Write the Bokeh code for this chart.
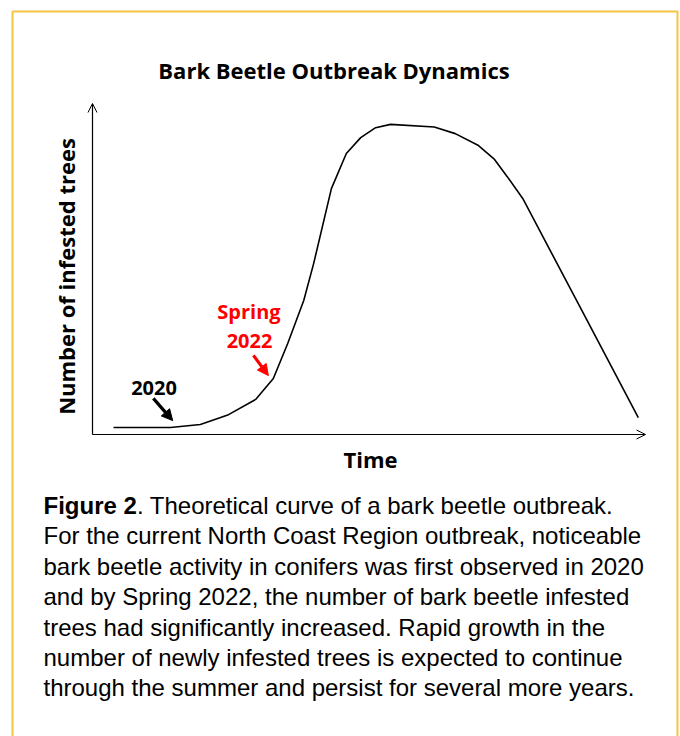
from bokeh.plotting import figure
from bokeh.models import Label, Arrow, OpenHead, NormalHead, BoxAnnotation, Range1d, ColumnDataSource
from bokeh.embed import file_html
from bokeh.resources import INLINE
import math

# ---------------- data ----------------
title_text = "Bark Beetle Outbreak Dynamics"
x_label = "Time"
y_label = "Number of infested trees"

# relative time (0-100) and relative number of infested trees (0-100)
time_rel = [3.8, 14.1, 19.5, 24.6, 29.5, 32.7, 35.3, 38.2, 40.0, 43.2, 45.9, 48.5,
            51.2, 53.9, 61.8, 65.6, 69.8, 72.7, 75.0, 77.8, 88.2, 98.7]
infested = [2.1, 2.1, 3.0, 6.0, 10.6, 16.9, 27.5, 40.5, 51.7, 74.3, 84.9, 89.7,
            92.7, 93.7, 92.9, 90.9, 87.3, 83.1, 77.9, 71.3, 38.4, 5.1]

# event markers on the curve
event_names = ["2020", "Spring 2022"]
event_colors = ["#000000", "#FF0000"]
event_tail_t = [11.0, 29.1]
event_tail_n = [10.9, 23.9]
event_tip_t = [14.5, 31.8]
event_tip_n = [4.2, 17.8]

caption_bold = "Figure 2"
caption_lines = [
    ". Theoretical curve of a bark beetle outbreak.",
    "For the current North Coast Region outbreak, noticeable",
    "bark beetle activity in conifers was first observed in 2020",
    "and by Spring 2022, the number of bark beetle infested",
    "trees had significantly increased. Rapid growth in the",
    "number of newly infested trees is expected to continue",
    "through the summer and persist for several more years.",
]

# ---------------- layout ----------------
W, H = 680, 736
# pixel position of the axis origin and the pixel length of 100 units on each axis
ORX, ORY = 92.0, 434.0
LEN_X, LEN_Y = 553.0, 331.0
sx = LEN_X / 100.0
sy = LEN_Y / 100.0
x_rng = Range1d(-ORX / sx, (W - ORX) / sx)
y_rng = Range1d(-(H - ORY) / sy, ORY / sy)

p = figure(width=W, height=H, x_range=x_rng, y_range=y_rng,
           output_backend="svg", toolbar_location=None,
           min_border=0, min_border_left=0, min_border_right=0,
           min_border_top=0, min_border_bottom=0)
p.title.visible = False
p.xaxis.visible = False
p.yaxis.visible = False
p.grid.visible = False
p.outline_line_color = None
p.background_fill_color = "white"
p.border_fill_color = "white"

BOLD_FONT = "Open Sans"
CAP_FONT = "Liberation Sans"


def scr(px, py):
    """page pixel (top-left origin) -> frame screen units (bottom-left origin)"""
    return px, H - py


# yellow frame around the panel
bl, bt = scr(12, 11)
br, bb = scr(677, 760)
p.add_layout(BoxAnnotation(left=bl, right=br, top=bt, bottom=bb,
                           left_units="screen", right_units="screen",
                           top_units="screen", bottom_units="screen",
                           fill_color=None, fill_alpha=0, line_color="#F4C542",
                           line_alpha=1.0, line_width=2))

# axes drawn as arrows
p.add_layout(Arrow(end=OpenHead(size=9, line_width=1, line_color="black"),
                   x_start=0, y_start=0, x_end=100, y_end=0, line_width=1.2, line_color="black"))
p.add_layout(Arrow(end=OpenHead(size=9, line_width=1, line_color="black"),
                   x_start=0, y_start=0, x_end=0, y_end=100, line_width=1.2, line_color="black"))

# curve
src = ColumnDataSource(dict(t=time_rel, n=infested))
p.line("t", "n", source=src, line_color="black", line_width=1.6)

# event arrows
for i in range(len(event_names)):
    c = event_colors[i]
    p.add_layout(Arrow(end=NormalHead(size=11, fill_color=c, line_color=c),
                       x_start=event_tail_t[i], y_start=event_tail_n[i],
                       x_end=event_tip_t[i], y_end=event_tip_n[i],
                       line_color=c, line_width=3.2))


def label(px, py, text, size, font, bold=True, color="black", align="center", angle=0.0):
    x, y = scr(px, py)
    p.add_layout(Label(x=x, y=y, x_units="screen", y_units="screen", text=text,
                       text_align=align, text_baseline="middle", angle=angle,
                       text_font=font, text_font_style="bold" if bold else "normal",
                       text_font_size=size, text_color=color))


spring, yr = event_names[1].split(" ")
label(153.5, 387.5, event_names[0], "20px", BOLD_FONT, color=event_colors[0])
label(248.5, 310.5, spring, "20px", BOLD_FONT, color=event_colors[1])
label(249.0, 340.0, yr, "20px", BOLD_FONT, color=event_colors[1])

# title and axis labels
label(333.5, 69.5, title_text, "22px", BOLD_FONT)
label(370.0, 458.5, x_label, "22px", BOLD_FONT)
label(65.5, 276.0, y_label, "22px", BOLD_FONT, angle=math.pi / 2)

# caption
cap_x = 43.0
cap_y0 = 505.0
cap_dy = 30.4
cap_size = "24px"
bold_w = 93.4
label(cap_x, cap_y0, caption_bold, cap_size, CAP_FONT, bold=True, align="left")
for i, line in enumerate(caption_lines):
    xx = cap_x + (bold_w if i == 0 else 0)
    label(xx, cap_y0 + i * cap_dy, line, cap_size, CAP_FONT, bold=False, align="left")

open("out.html", "w").write(file_html(p, INLINE))
